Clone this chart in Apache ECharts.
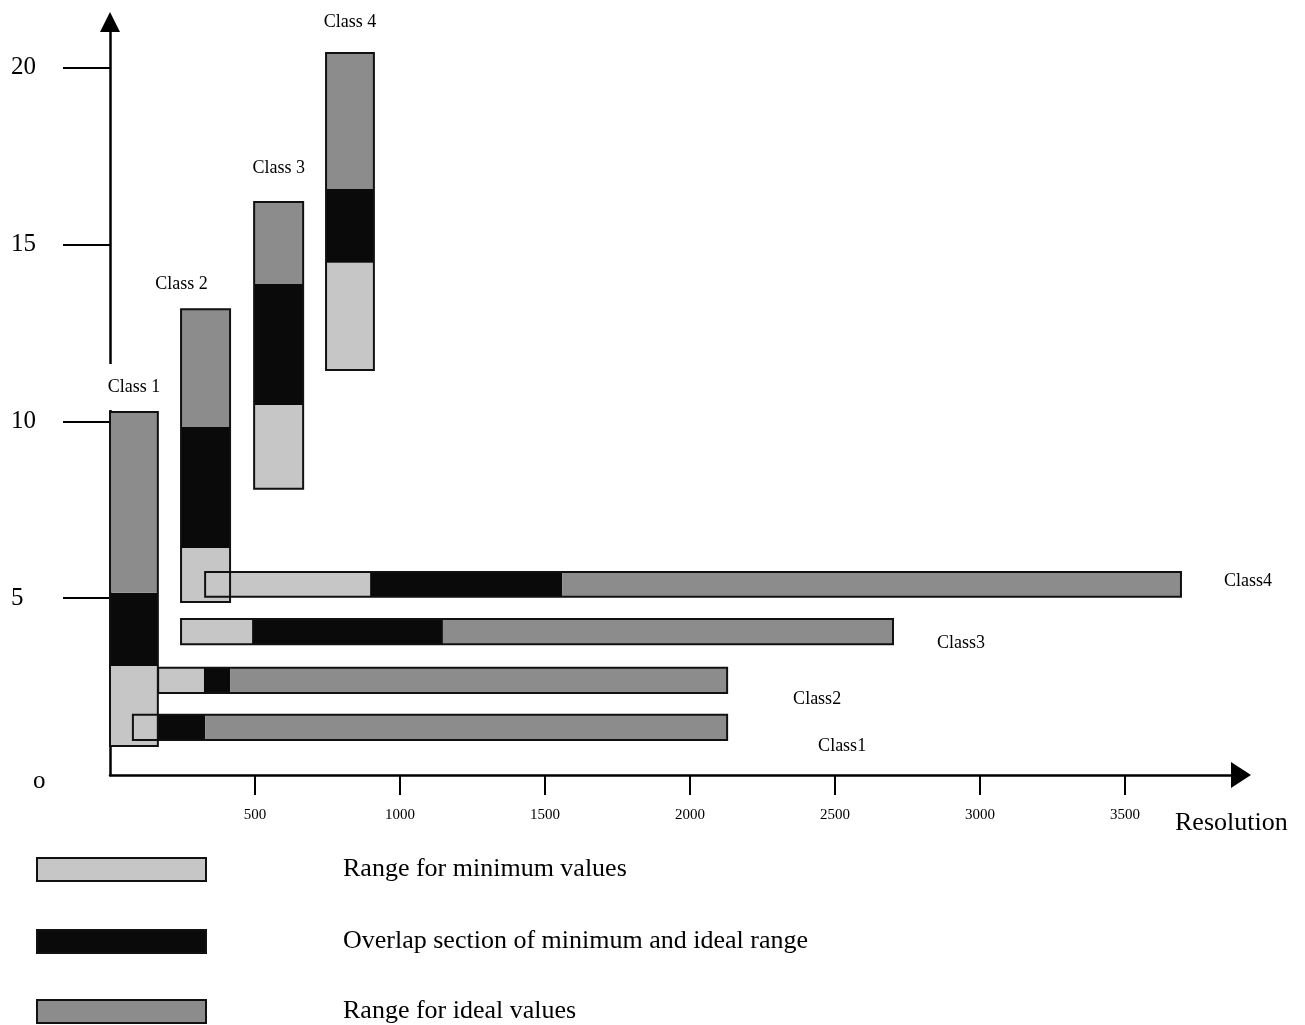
<!DOCTYPE html>
<html><head><meta charset="utf-8">
<script src="https://cdn.jsdelivr.net/npm/echarts@6/dist/echarts.min.js"></script>
<style>html,body{margin:0;padding:0;background:#fff}#c{width:1305px;height:1025px}</style>
</head><body><div id="c"></div>
<script>
// ---- data (resolution on x, quantity on y) ----
const classNames = ['Class 1', 'Class 2', 'Class 3', 'Class 4'];
const hClassNames = ['Class1', 'Class2', 'Class3', 'Class4'];
// vertical bars: x span (resolution) and y breakpoints
const vXStart = [0, 245, 497, 745];
const vXEnd = [165, 414, 666, 910];
const vMinStart = [0.82, 4.89, 8.09, 11.45];
const vOverlapStart = [3.08, 6.42, 10.46, 14.48];
const vIdealStart = [5.15, 9.84, 13.88, 16.57];
const vIdealEnd = [10.26, 13.17, 16.20, 20.41];
// horizontal bars: y span and resolution breakpoints
const hYStart = [0.99, 2.32, 3.70, 5.04];
const hYEnd = [1.70, 3.03, 4.41, 5.74];
const hMinStart = [79, 166, 245, 328];
const hOverlapStart = [162, 324, 490, 897];
const hIdealStart = [328, 414, 1148, 1559];
const hIdealEnd = [2128, 2128, 2700, 3693];
// axis ticks
const xTickValues = [500, 1000, 1500, 2000, 2500, 3000, 3500];
const yTickValues = [5, 10, 15, 20];
const yLabelValues = [0, 5, 10, 15, 20];
const legendNames = ['Range for minimum values', 'Overlap section of minimum and ideal range', 'Range for ideal values'];

// ---- styling ----
const FONT = '"Liberation Serif", "Times New Roman", serif';
const fills = ['#c6c6c6', '#0a0a0a', '#8c8c8c'];
const vLabelNudge = [[0, 25], [-24, 25], [0, 34], [0, 31]];
const hLabelNudge = [[91, 19], [66, 19], [44, 12], [43, -3]];
// legend rows: top of row and text padding (shifts text relative to swatch)
const legendRows = [
  { top: 841, pad: [34, 0, 0, 132] },
  { top: 924, pad: [0, 0, 12, 132] },
  { top: 991, pad: [0, 0, 18, 132] }
];

// build segment tables per category: [x0, x1, y0, y1]
const segMin = [], segOverlap = [], segIdeal = [], outlines = [];
for (let i = 0; i < 4; i++) {
  segMin.push([vXStart[i], vXEnd[i], vMinStart[i], vOverlapStart[i]]);
  segOverlap.push([vXStart[i], vXEnd[i], vOverlapStart[i], vIdealStart[i]]);
  segIdeal.push([vXStart[i], vXEnd[i], vIdealStart[i], vIdealEnd[i]]);
  outlines.push([vXStart[i], vXEnd[i], vMinStart[i], vIdealEnd[i], i, 0]);
}
for (let i = 0; i < 4; i++) {
  segMin.push([hMinStart[i], hOverlapStart[i], hYStart[i], hYEnd[i]]);
  segOverlap.push([hOverlapStart[i], hIdealStart[i], hYStart[i], hYEnd[i]]);
  segIdeal.push([hIdealStart[i], hIdealEnd[i], hYStart[i], hYEnd[i]]);
  outlines.push([hMinStart[i], hIdealEnd[i], hYStart[i], hYEnd[i], i, 1]);
}

function fillSeries(name, data, color, z) {
  return {
    type: 'custom', name: name, data: data, z: z,
    itemStyle: { color: color, borderColor: '#111', borderWidth: 2 },
    encode: { x: [0, 1], y: [2, 3] },
    renderItem: function (params, api) {
      const a = api.coord([api.value(0), api.value(3)]);
      const b = api.coord([api.value(1), api.value(2)]);
      return { type: 'rect', shape: { x: a[0], y: a[1], width: b[0] - a[0], height: b[1] - a[1] },
        style: { fill: color } };
    }
  };
}

const legends = legendNames.map(function (name, i) {
  return {
    show: true, orient: 'horizontal', left: 36, top: legendRows[i].top, padding: 0, selectedMode: false,
    itemWidth: 169, itemHeight: 23, icon: 'rect',
    data: [name],
    textStyle: { fontFamily: FONT, fontSize: 26, color: '#000', lineHeight: 23, padding: legendRows[i].pad }
  };
});

const chart = echarts.init(document.getElementById('c'), null, { renderer: 'canvas' });
chart.setOption({
  animation: false,
  backgroundColor: '#fff',
  grid: { left: 110, right: 64, top: 22, bottom: 250, containLabel: false, outerBoundsMode: 'none' },
  xAxis: {
    type: 'value', min: 0, max: 3900,
    splitLine: { show: false },
    axisLine: { show: true, symbol: ['none', 'triangle'], symbolSize: [26, 20], lineStyle: { color: '#000', width: 2.5 } },
    axisTick: { show: true, length: 20, customValues: xTickValues, lineStyle: { color: '#000', width: 2 } },
    axisLabel: { show: true, customValues: xTickValues, margin: 33, fontFamily: FONT, fontSize: 15, color: '#000',
      formatter: function (v) { return String(v); } }
  },
  yAxis: {
    type: 'value', min: 0, max: 21.29,
    splitLine: { show: false },
    axisLine: { show: true, symbol: ['none', 'triangle'], symbolSize: [20, 20], lineStyle: { color: '#000', width: 2.5 } },
    axisTick: { show: true, length: 47, customValues: yTickValues, lineStyle: { color: '#000', width: 2 } },
    axisLabel: { show: true, customValues: yLabelValues, align: 'left', margin: 99, fontFamily: FONT, fontSize: 25, color: '#000',
      formatter: function (v) { return v === 0 ? '{o|o}' : String(v); },
      rich: { o: { fontFamily: FONT, fontSize: 25, color: '#000', padding: [12, 0, 0, 22] } } }
  },
  legend: legends,
  graphic: [
    { type: 'text', left: 1175, top: 810, style: { text: 'Resolution', font: '26px ' + FONT, fill: '#000' } }
  ],
  series: [
    fillSeries(legendNames[0], segMin, fills[0], 2),
    fillSeries(legendNames[1], segOverlap, fills[1], 2),
    fillSeries(legendNames[2], segIdeal, fills[2], 2),
    {
      type: 'custom', name: 'outline', data: outlines, z: 5,
      encode: { x: [0, 1], y: [2, 3] },
      renderItem: function (params, api) {
        const a = api.coord([api.value(0), api.value(3)]);
        const b = api.coord([api.value(1), api.value(2)]);
        const idx = api.value(4), horiz = api.value(5) === 1;
        let text;
        if (horiz) {
          const n = hLabelNudge[idx];
          text = { type: 'text', x: b[0] + n[0], y: (a[1] + b[1]) / 2 + n[1],
            style: { text: hClassNames[idx], font: '18px ' + FONT, fill: '#000', align: 'left', verticalAlign: 'middle' } };
        } else {
          const n = vLabelNudge[idx];
          text = { type: 'text', x: (a[0] + b[0]) / 2 + n[0], y: a[1] - n[1], z2: 10,
            style: { text: classNames[idx], font: '18px ' + FONT, fill: '#000', align: 'center', verticalAlign: 'middle',
              backgroundColor: '#fff', padding: [12, 2, 16, 2] } };
        }
        return { type: 'group', children: [
          { type: 'rect', shape: { x: a[0], y: a[1], width: b[0] - a[0], height: b[1] - a[1] },
            style: { fill: 'none', stroke: '#111', lineWidth: 2 } },
          text
        ] };
      }
    }
  ]
});
</script>
</body></html>
